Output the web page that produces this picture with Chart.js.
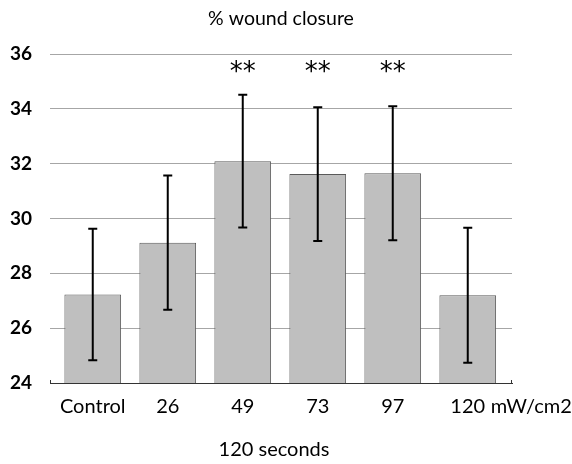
<!DOCTYPE html>
<html>
<head>
<meta charset="utf-8">
<script src="https://cdn.jsdelivr.net/npm/chart.js@4"></script>
<style>
  html, body { margin: 0; padding: 0; background: #fff; }
  #wrap { width: 572px; height: 464px; position: relative; }
</style>
</head>
<body>
<div id="wrap"><canvas id="chart"></canvas></div>
<script>
// datos
const categorias = ['Control', '26', '49', '73', '97', '120'];
const cierre = [27.23, 29.12, 32.09, 31.62, 31.65, 27.2];
const errores = [2.4, 2.45, 2.42, 2.44, 2.44, 2.46];
const estrellas = ['', '', '**', '**', '**', ''];
const ticksY = [24, 26, 28, 30, 32, 34, 36];
const titulo = '% wound closure';
const tituloX = '120 seconds';
const unidad = 'mW/cm2';

const fuente = 'Lato, "Open Sans", sans-serif';

// barras de error, asteriscos y textos extra
const extras = {
  id: 'extras',
  afterDatasetsDraw(chart) {
    const ctx = chart.ctx;
    const y = chart.scales.y;
    const area = chart.chartArea;
    const meta = chart.getDatasetMeta(0);
    ctx.save();
    ctx.strokeStyle = '#000';
    ctx.lineWidth = 2;
    meta.data.forEach((bar, i) => {
      const top = y.getPixelForValue(cierre[i] + errores[i]);
      const bot = y.getPixelForValue(cierre[i] - errores[i]);
      ctx.beginPath();
      ctx.moveTo(bar.x, top); ctx.lineTo(bar.x, bot);
      ctx.moveTo(bar.x - 4.5, top); ctx.lineTo(bar.x + 4.5, top);
      ctx.moveTo(bar.x - 4.5, bot); ctx.lineTo(bar.x + 4.5, bot);
      ctx.stroke();
    });
    ctx.fillStyle = '#000';
    ctx.textAlign = 'center';
    ctx.textBaseline = 'middle';
    ctx.font = '26px "DejaVu Sans"';
    meta.data.forEach((bar, i) => {
      if (estrellas[i]) ctx.fillText(estrellas[i], bar.x, y.getPixelForValue(35.3));
    });
    ctx.font = '20px ' + fuente;
    ctx.fillText(tituloX, (area.left + area.right) / 2 - 7, area.bottom + 67);
    ctx.textAlign = 'left';
    const ultima = meta.data[meta.data.length - 1];
    ctx.fillText(unidad, ultima.x + 23, area.bottom + 23.5);
    // bordes del eje x
    ctx.strokeStyle = '#333';
    ctx.lineWidth = 1;
    ctx.beginPath();
    ctx.moveTo(area.left + 0.5, area.bottom); ctx.lineTo(area.left + 0.5, area.bottom - 3);
    ctx.moveTo(area.right - 0.5, area.bottom); ctx.lineTo(area.right - 0.5, area.bottom - 3);
    ctx.stroke();
    ctx.restore();
  }
};

new Chart(document.getElementById('chart'), {
  type: 'bar',
  data: {
    datasets: [{
      data: cierre.map((v, i) => ({ x: i, y: v })),
      backgroundColor: '#bfbfbf',
      borderColor: '#5a5a5a',
      borderWidth: 1,
      categoryPercentage: 1,
      barPercentage: 0.756
    }]
  },
  options: {
    responsive: true,
    maintainAspectRatio: false,
    animation: false,
    layout: { padding: { right: 60 } },
    plugins: {
      legend: { display: false },
      tooltip: { enabled: false },
      title: {
        display: true,
        fullSize: false,
        text: titulo,
        color: '#000',
        font: { family: fuente, size: 19.5, weight: 'normal' },
        padding: { top: 7, bottom: 23.6 }
      }
    },
    scales: {
      x: {
        type: 'linear',
        min: -0.57,
        max: 5.59,
        offset: false,
        grid: { display: false, offset: false, drawTicks: false, tickLength: 0 },
        border: { display: true, color: '#333', width: 1 },
        afterBuildTicks: s => { s.ticks = categorias.map((c, i) => ({ value: i })); },
        afterFit: s => { s.height = 81; },
        ticks: {
          autoSkip: false,
          maxRotation: 0,
          padding: 12,
          color: '#000',
          font: { family: fuente, size: 20 },
          callback: v => categorias[v]
        }
      },
      y: {
        min: 24,
        max: 36,
        grid: { color: '#a6a6a6', drawTicks: false, tickLength: 0 },
        border: { display: false },
        afterBuildTicks: s => { s.ticks = ticksY.map(v => ({ value: v })); },
        afterFit: s => { s.width = 50; },
        ticks: {
          padding: 18,
          color: '#000',
          font: { family: fuente, size: 19, weight: 'bold' }
        }
      }
    }
  },
  plugins: [extras]
});
</script>
</body>
</html>
